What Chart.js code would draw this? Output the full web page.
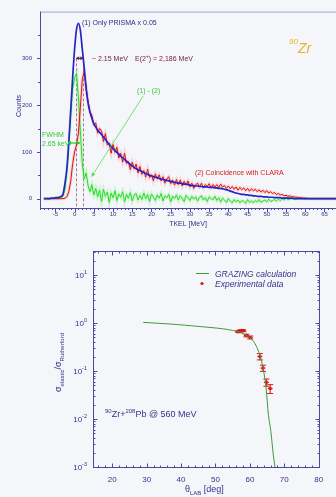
<!DOCTYPE html>
<html>
<head>
<meta charset="utf-8">
<script src="https://cdn.jsdelivr.net/npm/chart.js@4.4.1/dist/chart.umd.min.js"></script>
<style>
  html, body { margin: 0; padding: 0; background: #f5f6f9; }
  #spec { position: absolute; left: 0; top: 0; }
  #elast { position: absolute; left: 0; top: 236px; }
</style>
</head>
<body>
<canvas id="spec" width="336" height="236"></canvas>
<canvas id="elast" width="336" height="261"></canvas>
<script>
// ---- top panel: TKEL spectra (counts) ----
const tkel = [
  -8, -7.5, -7, -6.5, -6, -5.5, -5, -4.5, -4, -3.5,
  -3, -2.5, -2, -1.5, -1, -0.5, 0, 0.5, 1, 1.5,
  2, 2.5, 3, 3.5, 4, 4.5, 5, 5.5, 6, 6.5,
  7, 7.5, 8, 8.5, 9, 9.5, 10, 10.5, 11, 11.5,
  12, 12.5, 13, 13.5, 14, 14.5, 15, 15.5, 16, 16.5,
  17, 17.5, 18, 18.5, 19, 19.5, 20, 20.5, 21, 21.5,
  22, 22.5, 23, 23.5, 24, 24.5, 25, 25.5, 26, 26.5,
  27, 27.5, 28, 28.5, 29, 29.5, 30, 30.5, 31, 31.5,
  32, 32.5, 33, 33.5, 34, 34.5, 35, 35.5, 36, 36.5,
  37, 37.5, 38, 38.5, 39, 39.5, 40, 40.5, 41, 41.5,
  42, 42.5, 43, 43.5, 44, 44.5, 45, 45.5, 46, 46.5,
  47, 47.5, 48, 48.5, 49, 49.5, 50, 50.5, 51, 51.5,
  52, 52.5, 53, 53.5, 54, 54.5, 55, 55.5, 56, 56.5,
  57, 57.5, 58, 58.5, 59, 59.5, 60, 60.5, 61, 61.5,
  62, 65, 68
];

// (1) only PRISMA x 0.05
const onlyPrisma = [
  0, 0, 0, 0, 1, 1, 2, 2, 3, 5,
  10, 33, 65, 120, 190, 260, 320, 362, 375, 360,
  320, 280, 235, 205, 185, 172, 160, 153, 147, 142,
  137, 132, 127, 121, 116, 111, 107, 103, 99, 95,
  91, 87, 84, 80, 77, 73, 70, 67, 64, 62,
  60, 58, 56, 54, 52, 50, 49, 47, 46, 45,
  43, 42, 41, 40, 39, 38, 37, 36, 35, 34,
  33, 33, 32, 31, 31, 30, 29, 28, 28, 27,
  27, 26, 26, 25, 25, 25, 24, 24, 24, 23,
  23, 22, 22, 21, 20, 19, 18, 16, 15, 13,
  12, 11, 10, 9, 9, 8, 8, 7, 7, 6,
  6, 5, 5, 5, 4, 4, 4, 3, 3, 3,
  2, 2, 2, 2, 1, 1, 1, 1, 1, 1,
  0, 0, 0, 0, 0, 0, 0, 0, 0, 0,
  0, 0, 0
];

// (2) coincidence with CLARA
const withClara = [
  0, 0, 0, 0, 0, 0, 0, 0, 0, 0,
  0, 1, 4, 15, 38, 75, 100, 115, 140, 195,
  255, 272, 240, 208, 186, 178, 158, 162, 140, 150,
  145, 122, 139, 115, 119, 97, 116, 99, 110, 87,
  97, 78, 97, 75, 79, 62, 78, 64, 74, 55,
  69, 52, 60, 46, 63, 45, 51, 38, 53, 42,
  51, 38, 47, 33, 42, 47, 32, 40, 29, 41,
  30, 40, 27, 37, 29, 38, 25, 33, 22, 30,
  33, 25, 33, 23, 30, 26, 32, 23, 30, 25,
  30, 24, 31, 25, 28, 22, 27, 21, 26, 20,
  25, 18, 24, 19, 23, 17, 22, 16, 21, 17,
  20, 15, 19, 14, 18, 13, 17, 12, 15, 11,
  13, 9, 11, 8, 9, 6, 7, 5, 6, 4,
  4, 3, 3, 2, 2, 1, 1, 1, 0, 0,
  0, 0, 0
];

// (1) - (2)
const difference = [
  0, 0, 0, 0, 0, 0, 0, 0, 1, 2,
  5, 20, 60, 125, 180, 235, 258, 268, 215, 145,
  75, 42, 55, 28, 15, 30, 8, 22, 4, 18,
  -6, 20, 5, 14, -8, 12, 2, 17, -4, 10,
  3, 15, -7, 9, 1, 13, -5, 8, 11, -3,
  7, -2, 12, 0, 9, -6, 10, 3, -4, 8,
  1, 11, -5, 6, 2, 9, -7, 5, 0, 8,
  -3, 6, 1, -6, 7, 2, -4, 5, -1, 4,
  -5, 3, 6, -3, 2, -6, 4, 0, -2, 5,
  -4, 2, -7, 1, -3, -8, 0, -5, -9, -2,
  -7, -3, -9, -4, -6, -10, -2, -8, -5, -9,
  -4, -7, -2, -8, -5, -3, -7, -1, -6, -4,
  -2, -5, -1, -4, 0, -3, 1, -2, -1, 0,
  1, -1, 0, 1, 0, 0, -1, 0, 0, 0,
  0, 0, 0
];

const xTicksTop = [-5, 0, 5, 10, 15, 20, 25, 30, 35, 40, 45, 50, 55, 60, 65];
const yTicksTop = [0, 100, 200, 300];
const peakMarks = [0.4, 2.3];     // dashed lines, 2.15 MeV gap
const fwhmEnds = [-1.7, 1.4];     // FWHM arrow at ~119 counts

// ---- bottom panel: elastic / Rutherford ----
const grazingAngle = [29, 33, 37, 41, 45, 49, 52, 55, 57, 59, 60.5, 61.5, 62.5, 63.3, 64, 64.7, 65.4, 66.1, 66.8, 67.3];
const grazingRatio = [1.03, 0.99, 0.95, 0.9, 0.85, 0.8, 0.76, 0.7, 0.64, 0.55, 0.46, 0.37, 0.26, 0.17, 0.1, 0.045, 0.012, 0.0055, 0.0018, 0.001];

const expAngle = [56.6, 57.1, 57.6, 58.1, 59.0, 60.1, 62.9, 63.8, 64.8, 65.9];
const expRatio = [0.66, 0.68, 0.70, 0.69, 0.55, 0.50, 0.20, 0.115, 0.058, 0.043];
const expError = [0.03, 0.03, 0.03, 0.03, 0.035, 0.035, 0.03, 0.017, 0.01, 0.009];

const xTicksBot = [20, 30, 40, 50, 60, 70, 80];
const yTicksBot = [0.001, 0.01, 0.1, 1, 10];
const yTickExp = ['-3', '-2', '-1', '0', '1'];

const NAVY = '#33338d';
const FAM = '"Liberation Sans", Arial, sans-serif';

function fnt(size, style) {
  return (style ? style + ' ' : '') + size + 'px ' + FAM;
}

// draw text pieces one after another (for super/subscripts)
function textRuns(ctx, x, y, parts) {
  parts.forEach(([t, size, dy, style]) => {
    ctx.font = fnt(size, style);
    ctx.fillText(t, x, y + (dy || 0));
    x += ctx.measureText(t).width;
  });
  return x;
}

function runsWidth(ctx, parts) {
  let w = 0;
  parts.forEach(([t, size, dy, style]) => { ctx.font = fnt(size, style); w += ctx.measureText(t).width; });
  return w;
}

function head(ctx, x, y, ang, len, wid) {
  ctx.beginPath();
  ctx.moveTo(x, y);
  ctx.lineTo(x - len * Math.cos(ang) + wid * Math.sin(ang), y - len * Math.sin(ang) - wid * Math.cos(ang));
  ctx.lineTo(x - len * Math.cos(ang) - wid * Math.sin(ang), y - len * Math.sin(ang) + wid * Math.cos(ang));
  ctx.closePath();
  ctx.fill();
}

function arrow(ctx, x1, y1, x2, y2, both, len, wid) {
  ctx.beginPath();
  ctx.moveTo(x1, y1);
  ctx.lineTo(x2, y2);
  ctx.stroke();
  const ang = Math.atan2(y2 - y1, x2 - x1);
  head(ctx, x2, y2, ang, len, wid);
  if (both) head(ctx, x1, y1, ang + Math.PI, len, wid);
}

const specDecor = {
  id: 'specDecor',
  beforeDatasetsDraw(chart) {
    const { ctx, chartArea: a, scales: { x, y } } = chart;
    ctx.save();
    ctx.strokeStyle = 'rgba(150,100,125,0.85)';
    ctx.lineWidth = 1;
    ctx.setLineDash([3, 2]);
    peakMarks.forEach(e => {
      const px = Math.round(x.getPixelForValue(e)) + 0.5;
      ctx.beginPath();
      ctx.moveTo(px, y.getPixelForValue(300));
      ctx.lineTo(px, a.bottom);
      ctx.stroke();
    });
    ctx.restore();
  },
  afterDatasetsDraw(chart) {
    const { ctx, chartArea: a, scales: { x, y } } = chart;
    ctx.save();
    // frame
    ctx.lineWidth = 1;
    ctx.strokeStyle = '#a4a4d6';
    ctx.beginPath();
    ctx.moveTo(a.left, a.top + 0.5);
    ctx.lineTo(a.right, a.top + 0.5);
    ctx.stroke();
    ctx.strokeStyle = '#4a4aa2';
    ctx.beginPath();
    ctx.moveTo(a.left + 0.5, a.top);
    ctx.lineTo(a.left + 0.5, a.bottom);
    ctx.moveTo(a.left, a.bottom + 0.5);
    ctx.lineTo(a.right, a.bottom + 0.5);
    ctx.stroke();
    // x ticks
    ctx.beginPath();
    for (let v = -9; v <= 68; v++) {
      const px = Math.round(x.getPixelForValue(v)) + 0.5;
      const len = v % 5 === 0 ? 4 : 2;
      ctx.moveTo(px, a.bottom);
      ctx.lineTo(px, a.bottom + len);
    }
    // y ticks
    for (let v = 0; v <= 350; v += 50) {
      const py = Math.round(y.getPixelForValue(v)) + 0.5;
      const len = v % 100 === 0 ? 3 : 2;
      ctx.moveTo(a.left, py);
      ctx.lineTo(a.left - len, py);
    }
    ctx.stroke();

    // double arrow: ~2.15 MeV
    ctx.strokeStyle = '#6e1e3e';
    ctx.fillStyle = '#6e1e3e';
    ctx.lineWidth = 1.2;
    const yA = y.getPixelForValue(300);
    arrow(ctx, x.getPixelForValue(peakMarks[0]), yA, x.getPixelForValue(peakMarks[1]), yA, true, 3, 2);

    // FWHM arrow
    ctx.strokeStyle = '#22cc22';
    ctx.fillStyle = '#22cc22';
    const yF = y.getPixelForValue(119);
    arrow(ctx, x.getPixelForValue(fwhmEnds[0]), yF, x.getPixelForValue(fwhmEnds[1]), yF, true, 3, 2);

    // arrow from "(1) - (2)" label
    ctx.strokeStyle = '#55dd55';
    ctx.fillStyle = '#55dd55';
    ctx.lineWidth = 0.8;
    arrow(ctx, x.getPixelForValue(17.8), y.getPixelForValue(219), x.getPixelForValue(4.4), y.getPixelForValue(47), false, 4, 2);

    // labels
    ctx.textBaseline = 'alphabetic';
    ctx.textAlign = 'left';
    ctx.fillStyle = '#2c2c8e';
    ctx.font = fnt(7);
    ctx.fillText('(1) Only PRISMA x 0.05', 82, 24.5);
    ctx.fillStyle = '#6e1e3e';
    ctx.fillText('~ 2.15 MeV', 92, 60.5);
    textRuns(ctx, 135, 60.5, [['E(2', 7], ['+', 5, -3], [') = 2,186 MeV', 7]]);
    ctx.fillStyle = '#33cc33';
    ctx.font = fnt(7);
    ctx.fillText('(1) - (2)', 137, 93);
    ctx.fillText('FWHM', 42, 137);
    ctx.fillText('2.65 keV', 42, 146);
    ctx.fillStyle = '#d42020';
    ctx.fillText('(2) Coincidence with CLARA', 195, 174.5);
    ctx.fillStyle = '#e6b428';
    textRuns(ctx, 289, 44, [['90', 8, 0, 'italic'], ['Zr', 14, 9, 'italic']]);

    // axis titles
    ctx.fillStyle = NAVY;
    ctx.font = fnt(7);
    ctx.textAlign = 'center';
    ctx.fillText('TKEL [MeV]', 188, 225.5);
    ctx.translate(20.5, 106);
    ctx.rotate(-Math.PI / 2);
    ctx.fillText('Counts', 0, 0);
    ctx.restore();
  }
};

const pts = (xs, ys) => xs.map((v, i) => ({ x: v, y: ys[i] }));

new Chart(document.getElementById('spec').getContext('2d'), {
  type: 'line',
  data: {
    datasets: [
      {
        label: '(1) Only PRISMA x 0.05',
        data: pts(tkel, onlyPrisma),
        borderColor: '#2424c8',
        borderWidth: 1.7,
        pointRadius: 0,
        cubicInterpolationMode: 'monotone',
        order: 1,
      },
      {
        label: '(2) Coincidence with CLARA',
        data: pts(tkel, withClara),
        borderColor: '#e80c0c',
        borderWidth: 1,
        pointRadius: 0,
        order: 2,
      },
      {
        label: 'red band',
        data: pts(tkel, withClara),
        borderColor: 'rgba(230,120,120,0.25)',
        borderWidth: 3,
        pointRadius: 0,
        order: 3,
      },
      {
        label: '(1) - (2)',
        data: pts(tkel, difference),
        borderColor: '#22e022',
        borderWidth: 1,
        pointRadius: 0,
        order: 4,
      },
      {
        label: 'green band',
        data: pts(tkel, difference),
        borderColor: 'rgba(120,230,120,0.3)',
        borderWidth: 3,
        pointRadius: 0,
        order: 5,
      },
    ],
  },
  options: {
    responsive: false,
    animation: false,
    devicePixelRatio: 1,
    layout: { padding: { left: 0, top: 11, right: 0, bottom: 0 } },
    plugins: { legend: { display: false }, tooltip: { enabled: false } },
    scales: {
      x: {
        type: 'linear',
        min: -9,
        max: 68,
        grid: { display: false, drawTicks: false },
        border: { display: false },
        afterBuildTicks: (s) => { s.ticks = xTicksTop.map(v => ({ value: v })); },
        afterFit: (s) => { s.height = 28; },
        ticks: { font: { size: 6, family: FAM }, color: NAVY, padding: 3, maxRotation: 0, autoSkip: false },
      },
      y: {
        min: -20,
        max: 400,
        grid: { display: false, drawTicks: false },
        border: { display: false },
        afterBuildTicks: (s) => { s.ticks = yTicksTop.map(v => ({ value: v })); },
        afterFit: (s) => { s.width = 40; },
        ticks: { font: { size: 6, family: FAM }, color: NAVY, padding: 8 },
      },
    },
  },
  plugins: [specDecor],
});

const elastDecor = {
  id: 'elastDecor',
  beforeDatasetsDraw(chart) {
    const { ctx, scales: { x, y } } = chart;
    ctx.save();
    ctx.strokeStyle = '#d81818';
    ctx.lineWidth = 1;
    expAngle.forEach((ang, i) => {
      const px = x.getPixelForValue(ang);
      const top = y.getPixelForValue(expRatio[i] + expError[i]);
      const bot = y.getPixelForValue(expRatio[i] - expError[i]);
      ctx.beginPath();
      ctx.moveTo(px, top);
      ctx.lineTo(px, bot);
      ctx.moveTo(px - 3, top);
      ctx.lineTo(px + 3, top);
      ctx.moveTo(px - 3, bot);
      ctx.lineTo(px + 3, bot);
      ctx.moveTo(px - 2.5, y.getPixelForValue(expRatio[i]));
      ctx.lineTo(px + 2.5, y.getPixelForValue(expRatio[i]));
      ctx.stroke();
    });
    ctx.restore();
  },
  afterDatasetsDraw(chart) {
    const { ctx, chartArea: a, scales: { x, y } } = chart;
    ctx.save();
    ctx.strokeStyle = '#4a4aa2';
    ctx.lineWidth = 1;
    const L = Math.round(a.left) + 0.5, R = Math.round(a.right) + 0.5;
    const T = Math.round(a.top) + 0.5, B = Math.round(a.bottom) + 0.5;
    ctx.strokeRect(L, T, R - L, B - T);
    ctx.beginPath();
    // x ticks, top and bottom, inward
    for (let v = 16; v <= 80; v += 2) {
      const px = Math.round(x.getPixelForValue(v)) + 0.5;
      const len = v % 10 === 0 ? 4 : 2;
      ctx.moveTo(px, B); ctx.lineTo(px, B - len);
      ctx.moveTo(px, T); ctx.lineTo(px, T + len);
    }
    // y ticks, left and right, inward
    for (let d = -3; d <= 1; d++) {
      for (let m = 1; m <= 9; m++) {
        const v = m * Math.pow(10, d);
        if (v > y.max) break;
        const py = Math.round(y.getPixelForValue(v)) + 0.5;
        const len = m === 1 ? 4 : 2;
        ctx.moveTo(L, py); ctx.lineTo(L + len, py);
        ctx.moveTo(R, py); ctx.lineTo(R - len, py);
      }
    }
    ctx.stroke();

    // y tick labels 10^n
    ctx.fillStyle = NAVY;
    ctx.textBaseline = 'alphabetic';
    ctx.textAlign = 'left';
    yTicksBot.forEach((v, i) => {
      const py = y.getPixelForValue(v);
      const parts = [['10', 8, 0], [yTickExp[i], 5.5, -4]];
      const w = runsWidth(ctx, parts);
      textRuns(ctx, 87 - w, py + 3, parts);
    });

    // legend
    ctx.strokeStyle = '#3c9a3c';
    ctx.beginPath();
    ctx.moveTo(196, 37.5);
    ctx.lineTo(209, 37.5);
    ctx.stroke();
    ctx.fillStyle = '#d81818';
    ctx.beginPath();
    ctx.arc(202, 47.5, 1.6, 0, Math.PI * 2);
    ctx.fill();
    ctx.fillStyle = NAVY;
    ctx.font = fnt(8.5, 'italic');
    ctx.fillText('GRAZING calculation', 215, 40.5);
    ctx.fillText('Experimental data', 215, 50.5);

    // reaction label
    textRuns(ctx, 105, 180.5, [['90', 6, -4], ['Zr+', 9], ['208', 6, -4], ['Pb @ 560 MeV', 9]]);

    // x title
    textRuns(ctx, 185, 256, [['\u03b8', 9], ['LAB', 6, 3], [' [deg]', 9]]);

    // y title (rotated)
    ctx.translate(61, 156);
    ctx.rotate(-Math.PI / 2);
    textRuns(ctx, 0, 0, [['\u03c3', 9], ['elastic', 6, 2.5], ['/\u03c3', 9], ['Rutherford', 6, 2.5]]);
    ctx.restore();
  }
};

new Chart(document.getElementById('elast').getContext('2d'), {
  type: 'line',
  data: {
    datasets: [
      {
        label: 'GRAZING calculation',
        data: pts(grazingAngle, grazingRatio),
        borderColor: '#3c9a3c',
        borderWidth: 1,
        pointRadius: 0,
        tension: 0.3,
      },
      {
        label: 'Experimental data',
        data: pts(expAngle, expRatio),
        showLine: false,
        pointRadius: 1.8,
        pointBackgroundColor: '#d81818',
        pointBorderWidth: 0,
      },
    ],
  },
  options: {
    responsive: false,
    animation: false,
    devicePixelRatio: 1,
    layout: { padding: { left: 0, top: 15, right: 17.3, bottom: 0 } },
    plugins: { legend: { display: false }, tooltip: { enabled: false } },
    scales: {
      x: {
        type: 'linear',
        min: 14.5,
        max: 80,
        grid: { display: false, drawTicks: false },
        border: { display: false },
        afterBuildTicks: (s) => { s.ticks = xTicksBot.map(v => ({ value: v })); },
        afterFit: (s) => { s.height = 30; },
        ticks: { font: { size: 8, family: FAM }, color: NAVY, padding: 8, maxRotation: 0, autoSkip: false },
      },
      y: {
        type: 'logarithmic',
        min: 0.001,
        max: 31.6,
        grid: { display: false, drawTicks: false },
        border: { display: false },
        afterBuildTicks: (s) => { s.ticks = yTicksBot.map(v => ({ value: v })); },
        afterFit: (s) => { s.width = 93.3; },
        ticks: { display: false },
      },
    },
  },
  plugins: [elastDecor],
});
</script>
</body>
</html>
